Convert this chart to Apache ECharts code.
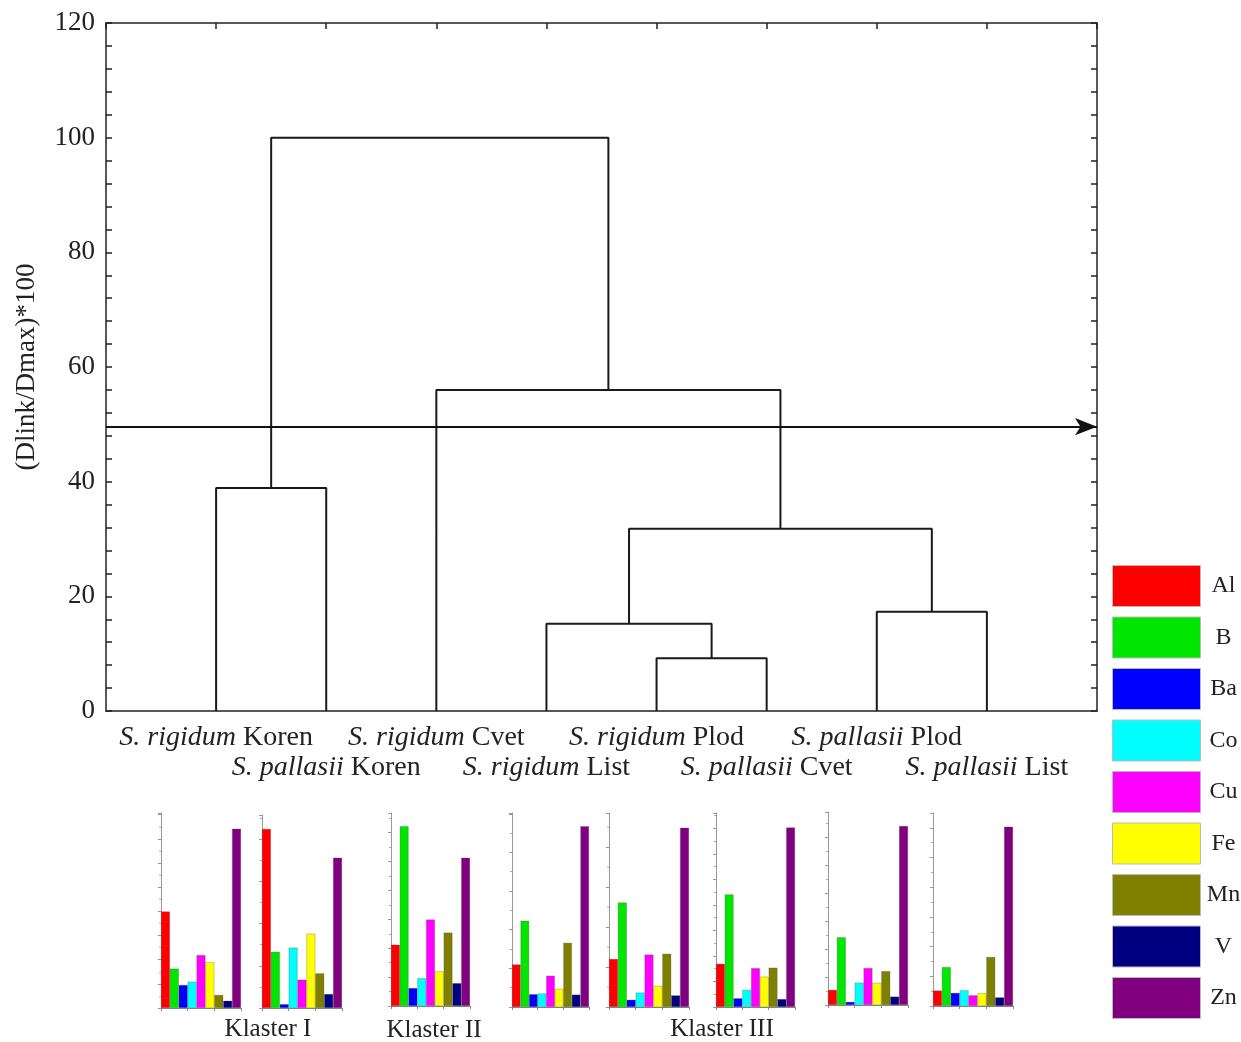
<!DOCTYPE html>
<html>
<head>
<meta charset="utf-8">
<script src="https://cdn.jsdelivr.net/npm/echarts@6/dist/echarts.min.js"></script>
<style>html,body{margin:0;padding:0;background:#fff}#c{width:1241px;height:1042px}</style>
</head>
<body>
<div id="c"></div>
<script>
// ---------- data ----------
const leafSpecies = ['S. rigidum', 'S. pallasii', 'S. rigidum', 'S. rigidum', 'S. rigidum', 'S. pallasii', 'S. pallasii', 'S. pallasii'];
const leafOrgan   = ['Koren', 'Koren', 'Cvet', 'List', 'Plod', 'Cvet', 'Plod', 'List'];
// linkage: nodes 0..7 are leaves, merge k creates node 8+k
const mergeLeft   = [0, 4, 3, 6, 10, 2, 8];
const mergeRight  = [1, 5, 9, 7, 11, 12, 13];
const mergeHeight = [38.9, 9.2, 15.2, 17.3, 31.8, 56.0, 100];
const cutHeight = 49.6;
const yTicks = [0, 20, 40, 60, 80, 100, 120];

const elements = ['Al', 'B', 'Ba', 'Co', 'Cu', 'Fe', 'Mn', 'V', 'Zn'];
const elementColors = ['#ff0000', '#00e600', '#0000ff', '#00ffff', '#ff00ff', '#ffff00', '#808000', '#000080', '#800080'];
// element profiles for each leaf (same order as leaves)
const profileRigidumKoren  = [3.99, 1.63, 0.95, 1.09, 2.19, 1.90, 0.54, 0.30, 7.42];
const profilePallasiiKoren = [4.24, 1.33, 0.09, 1.43, 0.67, 1.76, 0.82, 0.33, 3.56];
const profileRigidumCvet   = [2.12, 6.22, 0.62, 0.96, 2.99, 1.20, 2.54, 0.79, 5.13];
const profileRigidumList   = [1.10, 2.23, 0.33, 0.35, 0.81, 0.47, 1.66, 0.32, 4.68];
const profileRigidumPlod   = [1.20, 2.61, 0.18, 0.36, 1.31, 0.53, 1.33, 0.29, 4.48];
const profilePallasiiCvet  = [1.69, 4.41, 0.34, 0.67, 1.52, 1.19, 1.54, 0.31, 7.03];
const profilePallasiiPlod  = [0.54, 2.42, 0.11, 0.80, 1.32, 0.79, 1.21, 0.30, 6.40];
const profilePallasiiList  = [0.52, 1.31, 0.44, 0.53, 0.36, 0.43, 1.65, 0.29, 6.04];
const profiles = [profileRigidumKoren, profilePallasiiKoren, profileRigidumCvet, profileRigidumList,
                  profileRigidumPlod, profilePallasiiCvet, profilePallasiiPlod, profilePallasiiList];
const miniAxisMax = [8.07, 4.57, 6.68, 5.02, 4.85, 7.6, 6.9, 6.5];
const clusterNames = ['Klaster I', 'Klaster II', 'Klaster III'];

// ---------- layout ----------
const W = 1241, H = 1042;
const serif = "'Liberation Serif', 'Times New Roman', serif";
const miniBoxes = [
  [161, 241, 813, 1008], [262, 342, 815, 1008], [391, 470, 813, 1006], [512, 589, 813, 1007],
  [609, 689, 813, 1007], [716, 795, 813, 1007], [828, 908, 812, 1005], [933, 1013, 813, 1006]
];
const clusterPos = [[268, 1017], [434, 1018], [722, 1017]];

// ---------- build ----------
const nodeX = [], nodeY = [];
for (let i = 0; i < leafSpecies.length; i++) { nodeX.push(i + 1); nodeY.push(0); }
mergeLeft.forEach((l, k) => {
  const r = mergeRight[k];
  nodeX.push((nodeX[l] + nodeX[r]) / 2);
  nodeY.push(mergeHeight[k]);
});

const axisCol = '#222';
const grids = [{ left: 106, right: W - 1097, top: 23, bottom: H - 711 }];
const xAxes = [
  {
    gridIndex: 0, type: 'value', min: 0, max: 9, interval: 1, position: 'bottom',
    axisLine: { show: true, onZero: false, lineStyle: { color: axisCol, width: 1.5 } },
    axisTick: { show: false, length: 0 }, minorTick: { show: false }, splitLine: { show: false },
    axisLabel: {
      margin: 12, fontSize: 28, fontFamily: serif, color: '#222', lineHeight: 30,
      formatter: v => {
        const i = Math.round(v) - 1;
        if (i < 0 || i >= leafSpecies.length) return '';
        const s = '{i|' + leafSpecies[i] + '} ' + leafOrgan[i];
        return i % 2 === 0 ? s : '\n' + s;
      },
      rich: { i: { fontStyle: 'italic', fontSize: 28, fontFamily: serif, color: '#222', lineHeight: 30 } }
    }
  },
  {
    gridIndex: 0, type: 'value', min: 0, max: 9, interval: 1, position: 'top',
    axisLine: { show: true, onZero: false, lineStyle: { color: axisCol, width: 1.5 } },
    axisTick: { show: true, inside: true, length: 6, lineStyle: { color: axisCol, width: 1.5 } },
    axisLabel: { show: false }, splitLine: { show: false }
  }
];
const yAxes = [
  {
    gridIndex: 0, type: 'value', min: 0, max: 120, interval: 20, position: 'left',
    name: '(Dlink/Dmax)*100', nameLocation: 'middle', nameGap: 66, nameRotate: 90,
    nameTextStyle: { fontSize: 27, fontFamily: serif, color: '#222' },
    axisLine: { show: true, onZero: false, lineStyle: { color: axisCol, width: 1.5 } },
    axisTick: { show: true, inside: true, length: 6, lineStyle: { color: axisCol, width: 1.5 } },
    minorTick: { show: true, splitNumber: 5, length: 6, lineStyle: { color: axisCol, width: 1.5 } },
    axisLabel: { fontSize: 27, fontFamily: serif, color: '#222', margin: 11, formatter: v => yTicks.includes(v) ? String(v) : '' },
    splitLine: { show: false }
  },
  {
    gridIndex: 0, type: 'value', min: 0, max: 120, interval: 20, position: 'right',
    axisLine: { show: true, onZero: false, lineStyle: { color: axisCol, width: 1.5 } },
    axisTick: { show: true, inside: true, length: 6, lineStyle: { color: axisCol, width: 1.5 } },
    minorTick: { show: true, splitNumber: 5, length: 6, lineStyle: { color: axisCol, width: 1.5 } },
    axisLabel: { show: false }, splitLine: { show: false }
  }
];

const series = [];
mergeLeft.forEach((l, k) => {
  const r = mergeRight[k];
  const h = mergeHeight[k];
  const s = {
    type: 'line', xAxisIndex: 0, yAxisIndex: 0, symbol: 'none', silent: true, animation: false,
    lineStyle: { color: '#1a1a1a', width: 2 },
    data: [[nodeX[l], nodeY[l]], [nodeX[l], h], [nodeX[r], h], [nodeX[r], nodeY[r]]],
    z: 3
  };
  if (k === 0) {
    s.markLine = {
      silent: true, animation: false, symbol: ['none', 'arrow'], symbolSize: [13, 22],
      lineStyle: { color: '#111', width: 2, type: 'solid' }, label: { show: false },
      data: [{ yAxis: cutHeight }]
    };
  }
  series.push(s);
});

profiles.forEach((prof, g) => {
  const b = miniBoxes[g];
  grids.push({ left: b[0], right: W - b[1], top: b[2], bottom: H - b[3] });
  const gi = grids.length - 1;
  xAxes.push({
    gridIndex: gi, type: 'category', data: elements,
    axisLine: { lineStyle: { color: '#888', width: 1 } },
    axisTick: { show: true, length: 3, lineStyle: { color: '#888' } },
    axisLabel: { show: false }
  });
  const xi = xAxes.length - 1;
  yAxes.push({
    gridIndex: gi, type: 'value', min: 0, max: miniAxisMax[g], interval: 1,
    axisLine: { show: true, lineStyle: { color: '#999', width: 1 } },
    axisTick: { show: true, length: 3, lineStyle: { color: '#999' } },
    minorTick: { show: true, splitNumber: 2, length: 2, lineStyle: { color: '#aaa' } },
    axisLabel: { show: false }, splitLine: { show: false }
  });
  const yi = yAxes.length - 1;
  elements.forEach((el, e) => {
    series.push({
      type: 'bar', name: el, xAxisIndex: xi, yAxisIndex: yi,
      barGap: '-100%', barCategoryGap: 0, animation: false,
      itemStyle: { color: elementColors[e], borderColor: 'rgba(60,60,60,0.5)', borderWidth: 0.5 },
      data: elements.map((_, j) => j === e ? prof[e] : null)
    });
  });
});

const option = {
  backgroundColor: '#fff',
  animation: false,
  title: clusterNames.map((t, i) => ({
    text: t, left: clusterPos[i][0], top: clusterPos[i][1], textAlign: 'center', padding: 0,
    textStyle: { fontSize: 25, fontWeight: 'normal', fontFamily: serif, color: '#222' }
  })),
  legend: {
    orient: 'vertical', left: 1112, top: 565, padding: 0, itemWidth: 88, itemHeight: 41, itemGap: 9.5,
    icon: 'rect', selectedMode: false, data: elements,
    itemStyle: { borderColor: '#bbb', borderWidth: 1 },
    formatter: n => '{c|' + n + '}',
    textStyle: {
      fontSize: 24, fontFamily: serif, color: '#222',
      rich: { c: { width: 36, align: 'center', fontSize: 24, fontFamily: serif, color: '#222' } }
    }
  },
  grid: grids, xAxis: xAxes, yAxis: yAxes, series: series
};
const chart = echarts.init(document.getElementById('c'), null, { renderer: 'canvas' });
chart.setOption(option);
</script>
</body>
</html>
